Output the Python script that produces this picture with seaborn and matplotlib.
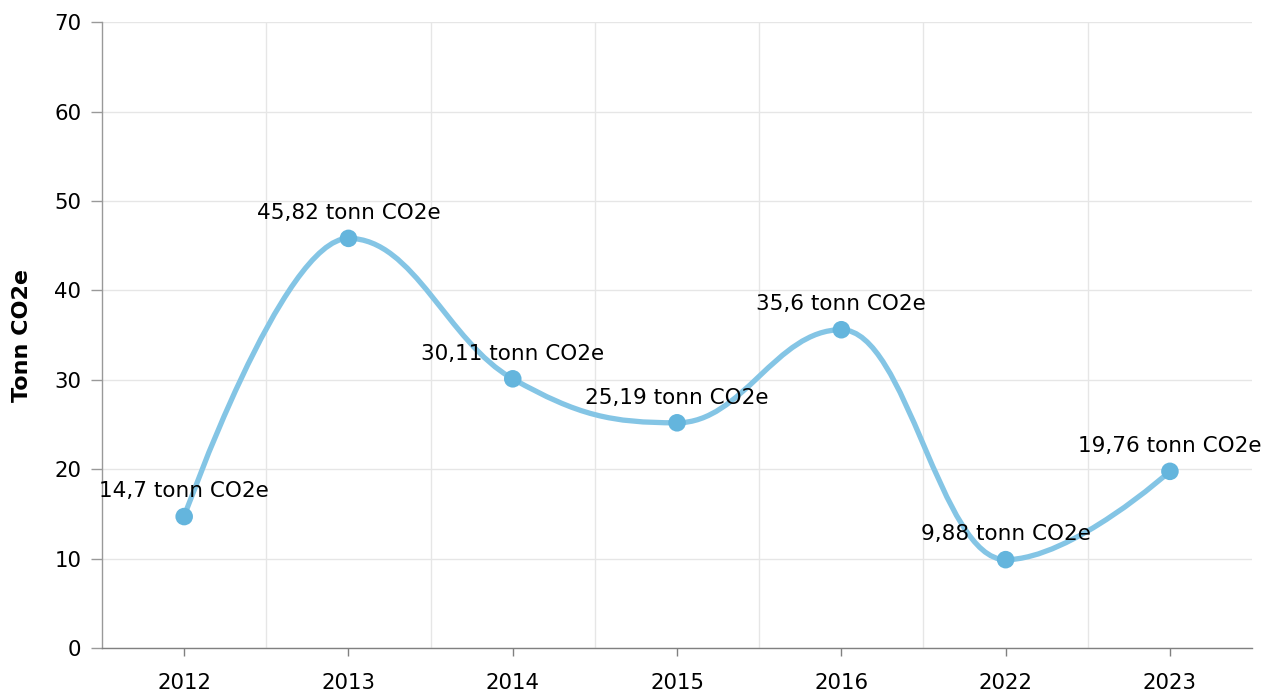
import matplotlib
matplotlib.use("Agg")
import matplotlib.pyplot as plt
import seaborn as sns
import pandas as pd
from matplotlib.path import Path
from matplotlib.patches import PathPatch

years = ["2012", "2013", "2014", "2015", "2016", "2022", "2023"]
values = [14.7, 45.82, 30.11, 25.19, 35.6, 9.88, 19.76]
labels = ["14,7", "45,82", "30,11", "25,19", "35,6", "9,88", "19,76"]

line_color = "#84c5e5"
marker_color = "#64b5dd"


def spline_path(xs, ys, smoothing=1.5):
    # smooth curve through the points (same idea as a Highcharts spline)
    denom = smoothing + 1
    n = len(xs)
    left = [(xs[i], ys[i]) for i in range(n)]
    right = [(xs[i], ys[i]) for i in range(n)]
    for i in range(1, n - 1):
        px, py = xs[i], ys[i]
        lx, ly = xs[i - 1], ys[i - 1]
        nx, ny = xs[i + 1], ys[i + 1]
        lcx = (smoothing * px + lx) / denom
        lcy = (smoothing * py + ly) / denom
        rcx = (smoothing * px + nx) / denom
        rcy = (smoothing * py + ny) / denom
        corr = ((rcy - lcy) * (rcx - px)) / (rcx - lcx) + py - rcy
        lcy += corr
        rcy += corr
        if lcy > ly and lcy > py:
            lcy = max(ly, py)
            rcy = 2 * py - lcy
        elif lcy < ly and lcy < py:
            lcy = min(ly, py)
            rcy = 2 * py - lcy
        if rcy > ny and rcy > py:
            rcy = max(ny, py)
            lcy = 2 * py - rcy
        elif rcy < ny and rcy < py:
            rcy = min(ny, py)
            lcy = 2 * py - rcy
        left[i] = (lcx, lcy)
        right[i] = (rcx, rcy)
    verts = [(xs[0], ys[0])]
    codes = [Path.MOVETO]
    for i in range(1, n):
        verts += [right[i - 1], left[i], (xs[i], ys[i])]
        codes += [Path.CURVE4] * 3
    return Path(verts, codes)


sns.set_theme(style="white")
plt.rcParams["font.family"] = ["DejaVu Sans"]
plt.rcParams["text.color"] = "black"

df = pd.DataFrame({"pos": range(len(years)), "value": values})

fig = plt.figure(figsize=(12.66, 6.94), dpi=100)
ax = fig.add_axes([0.0806, 0.0663, 0.9084, 0.9017])

ax.add_patch(PathPatch(spline_path(list(df["pos"]), values), fill=False,
                       edgecolor=line_color, lw=3.8, capstyle="round", zorder=3))
sns.scatterplot(data=df, x="pos", y="value", ax=ax, color=marker_color,
                s=160, edgecolor="none", zorder=4, legend=False)

for x, y, lab in zip(df["pos"], values, labels):
    ax.annotate(f"{lab} tonn CO2e", (x, y), xytext=(0, 11), textcoords="offset points",
                ha="center", va="bottom", fontsize=15.5, color="black", zorder=5)

ax.set_xlim(-0.5, len(years) - 0.5)
ax.set_ylim(0, 70)
ax.set_xticks(range(len(years)))
ax.set_xticklabels(years)
ax.set_xticks([i + 0.5 for i in range(len(years) - 1)], minor=True)
ax.set_yticks(range(0, 71, 10))
ax.grid(False)
ax.grid(True, axis="y", which="major", color="#e6e6e6", lw=1)
ax.grid(True, axis="x", which="minor", color="#e6e6e6", lw=1)
ax.set_axisbelow(True)

ax.tick_params(axis="x", which="major", length=6, width=1, color="#808080",
               labelsize=15.3, labelcolor="black", pad=12, bottom=True)
ax.tick_params(axis="x", which="minor", length=0)
ax.tick_params(axis="y", length=8, width=1, color="#999999", labelsize=15.3,
               labelcolor="black", pad=7, left=True)

for side in ["top", "right"]:
    ax.spines[side].set_visible(False)
ax.spines["left"].set_color("#999999")
ax.spines["bottom"].set_color("#808080")
ax.spines["left"].set_linewidth(1)
ax.spines["bottom"].set_linewidth(1)

ax.set_xlabel("")
ax.set_ylabel("Tonn CO2e", fontsize=16, fontweight="bold", color="black", labelpad=16)

fig.savefig("out.png", dpi=100)
